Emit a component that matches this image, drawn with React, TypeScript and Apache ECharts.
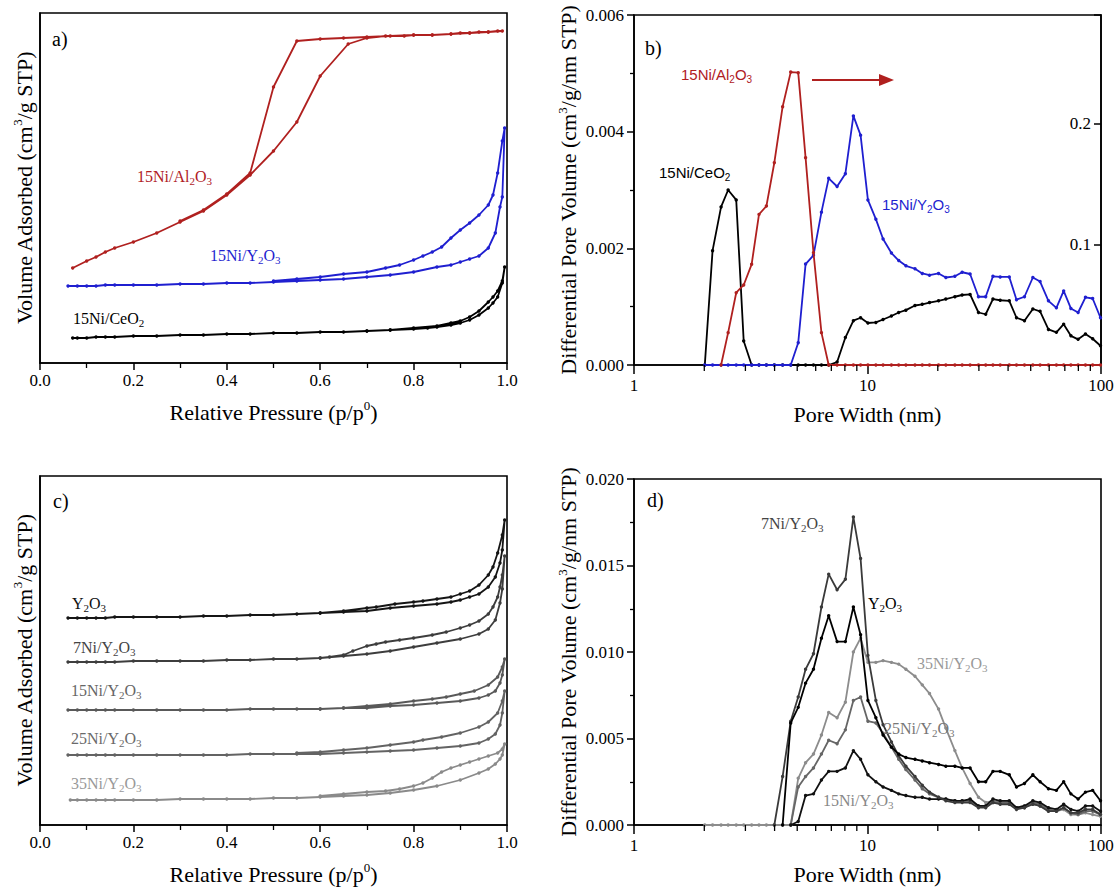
import React, { useEffect, useRef } from 'react';
import * as echarts from 'echarts';

const SERIF = 'Liberation Serif';
const SANS = 'Liberation Sans';
const RED = '#b0201f';
const BLUE = '#1f1fd0';

// ---------- Panel a: isotherms (p/p0, volume adsorbed, arbitrary offset units) ----------
const al2o3Ads = [[0.07,95],[0.1,102],[0.12,106],[0.14,111],[0.16,115],[0.2,121],[0.25,130],[0.3,141],[0.35,152],[0.4,168],[0.45,188],[0.5,212],[0.55,241],[0.6,287],[0.66,319],[0.7,325],[0.74,327],[0.78,327],[0.8,328],[0.84,328],[0.88,329],[0.9,330],[0.92,330],[0.94,331],[0.96,331],[0.98,332],[0.99,332]];
const al2o3Des = [[0.96,331],[0.92,330],[0.88,329],[0.84,328],[0.8,328],[0.75,327],[0.7,326],[0.65,325],[0.6,324],[0.55,322],[0.5,276],[0.45,190],[0.4,169],[0.35,153],[0.3,142]];
const y2o3Ads15 = [[0.06,77],[0.08,77],[0.1,77],[0.12,77],[0.14,78],[0.16,78],[0.2,78],[0.25,78],[0.3,79],[0.35,79],[0.4,80],[0.45,80],[0.5,81],[0.55,82],[0.6,83],[0.65,84],[0.7,86],[0.75,88],[0.8,91],[0.85,96],[0.88,98],[0.9,101],[0.92,104],[0.94,107],[0.96,115],[0.975,130],[0.985,156],[0.99,166],[0.995,235]];
const y2o3Des15 = [[0.99,222],[0.98,190],[0.97,168],[0.96,158],[0.94,148],[0.92,140],[0.9,133],[0.88,125],[0.86,116],[0.84,111],[0.82,107],[0.8,103],[0.77,98],[0.74,95],[0.7,91],[0.65,89],[0.6,86],[0.55,84],[0.5,82]];
const ceo2Ads = [[0.07,25],[0.08,25],[0.1,25],[0.12,26],[0.14,26],[0.16,26],[0.2,27],[0.25,27],[0.3,28],[0.35,28],[0.4,29],[0.45,29],[0.5,30],[0.55,30],[0.6,31],[0.65,31],[0.7,32],[0.75,33],[0.8,34],[0.83,35],[0.85,36],[0.88,38],[0.9,40],[0.92,43],[0.94,48],[0.96,55],[0.97,60],[0.98,66],[0.99,80],[0.995,96]];
const ceo2Des = [[0.99,82],[0.98,72],[0.97,66],[0.96,61],[0.94,52],[0.92,46],[0.9,42],[0.88,40],[0.85,37],[0.8,35],[0.75,33],[0.7,32]];

// ---------- Panel c: isotherms of Y2O3 series ----------
const y2o3Ads = [[0.06,207],[0.08,207],[0.1,207],[0.12,207],[0.14,207],[0.16,208],[0.2,208],[0.25,208],[0.3,208],[0.35,209],[0.4,209],[0.45,210],[0.5,210],[0.55,211],[0.6,212],[0.65,213],[0.7,214],[0.75,217],[0.8,219],[0.85,221],[0.88,223],[0.9,225],[0.92,228],[0.94,231],[0.96,238],[0.975,248],[0.985,262],[0.99,275],[0.995,305]];
const y2o3Des = [[0.99,290],[0.98,272],[0.97,258],[0.96,250],[0.94,240],[0.92,234],[0.9,231],[0.88,228],[0.85,226],[0.82,224],[0.8,223],[0.76,221],[0.72,218],[0.7,217],[0.65,214],[0.6,212]];
const ni7Ads = [[0.06,163],[0.08,163],[0.1,163],[0.12,163],[0.14,163],[0.16,163],[0.2,164],[0.25,164],[0.3,164],[0.35,164],[0.4,165],[0.45,165],[0.5,166],[0.55,166],[0.6,167],[0.65,169],[0.7,171],[0.75,174],[0.8,178],[0.85,182],[0.9,186],[0.94,191],[0.96,196],[0.975,205],[0.985,222],[0.99,236],[0.995,269]];
const ni7Des = [[0.99,250],[0.985,238],[0.98,228],[0.97,218],[0.96,211],[0.94,204],[0.92,200],[0.9,197],[0.87,193],[0.84,190],[0.8,187],[0.77,185],[0.74,183],[0.72,181],[0.7,179],[0.67,174],[0.65,170],[0.62,168],[0.6,167]];
const ni15Ads = [[0.06,115],[0.08,115],[0.1,115],[0.12,115],[0.14,115],[0.16,115],[0.2,115],[0.25,115],[0.3,115],[0.35,115],[0.4,115],[0.45,116],[0.5,116],[0.55,116],[0.6,116],[0.65,117],[0.7,117],[0.75,119],[0.8,120],[0.85,122],[0.9,124],[0.94,127],[0.96,130],[0.975,134],[0.985,142],[0.99,150],[0.995,166]];
const ni15Des = [[0.99,158],[0.98,148],[0.96,140],[0.93,134],[0.9,131],[0.87,128],[0.84,126],[0.8,124],[0.75,121],[0.7,119],[0.65,117],[0.6,116]];
const ni25Ads = [[0.06,70],[0.08,70],[0.1,70],[0.12,70],[0.14,70],[0.16,70],[0.2,70],[0.25,70],[0.3,70],[0.35,70],[0.4,70],[0.45,71],[0.5,71],[0.55,71],[0.6,71],[0.65,72],[0.7,73],[0.75,74],[0.8,75],[0.85,77],[0.9,79],[0.94,82],[0.96,86],[0.975,91],[0.985,100],[0.99,112],[0.995,134]];
const ni25Des = [[0.99,124],[0.98,112],[0.96,103],[0.94,98],[0.9,92],[0.86,88],[0.82,85],[0.8,83],[0.75,80],[0.7,77],[0.65,75],[0.6,73],[0.55,72]];
const ni35Ads = [[0.065,25],[0.08,25],[0.1,25],[0.12,25],[0.14,25],[0.16,25],[0.2,25],[0.25,25],[0.3,26],[0.35,26],[0.4,26],[0.45,26],[0.5,27],[0.55,27],[0.6,28],[0.65,29],[0.7,30],[0.75,32],[0.8,35],[0.85,39],[0.9,45],[0.94,52],[0.96,56],[0.975,61],[0.985,66],[0.99,70],[0.995,81]];
const ni35Des = [[0.99,76],[0.98,72],[0.96,69],[0.94,66],[0.92,63],[0.9,60],[0.88,57],[0.86,53],[0.84,47],[0.82,42],[0.8,39],[0.77,36],[0.74,34],[0.7,33],[0.65,31],[0.6,29]];

// ---------- Panels b, d: pore size distributions ----------
const N = null;
const poreWidth = [2.01,2.17,2.36,2.53,2.74,2.95,3.19,3.43,3.69,3.99,4.33,4.69,5.05,5.43,5.87,6.35,6.82,7.41,8.04,8.70,9.34,10.04,10.86,11.66,12.66,13.6,14.6,15.97,17.16,18.43,20.15,21.65,23.67,25.43,27.5,29.87,32.08,34.45,37.01,40.47,43.46,47.02,51.07,54.84,59.55,64.42,69.2,74.3,79.8,85.8,92.1,99.5];
const ceo2Pore = [0,0.00196,0.00271,0.0030,0.00283,0.00041,0,0,0,0, 0,0,0,0,0,0,0,0.00005,0.00047,0.00076, 0.00081,0.00072,0.00073,0.00078,0.00084,0.0009,0.00094,0.00102,0.00104,0.00107, 0.0011,0.00113,0.00117,0.0012,0.00121,0.0009,0.00087,0.00113,0.00111,0.0011, 0.00081,0.00076,0.00096,0.00092,0.00061,0.00056,0.0007,0.0005,0.00044,0.00053, 0.00045,0.00033];
const y2o3Pore15 = [0,0,0,0,0,0,0,0,0,0, 0,0,0.00038,0.00173,0.00188,0.00262,0.0032,0.00306,0.00328,0.00427, 0.00394,0.00283,0.0025,0.00216,0.00192,0.00179,0.0017,0.00165,0.00157,0.00154, 0.00157,0.0015,0.00152,0.00159,0.00156,0.00117,0.00117,0.00152,0.00151,0.00151, 0.00112,0.00117,0.0015,0.00143,0.0011,0.00098,0.00127,0.00097,0.0009,0.00116, 0.00114,0.00081];
const al2o3PoreRight = [N,N,0,0.0268,0.0599,0.0663,0.0834,0.1248,0.1317,0.1676, 0.214,0.2427,0.2422,0.1718,0.0931,0.0268,0,0,0,0, 0,0,0,0,0,0,0,0,0,0, 0,0,0,0,0,0,0,0,0,0, 0,0,0,0,0,0,0,0,0,0, 0,0];
const pore7Ni = [N,N,N,N,N,N,N,N,N,0, 0.0028,0.0060,0.0074,0.0090,0.0099,0.0126,0.0145,0.0136,0.0142,0.0178, 0.0154,0.0098,0.0072,0.0058,0.0048,0.0040,0.0034,0.0028,0.0023,0.0019, 0.0016,0.0014,0.0013,0.0013,0.0013,0.0010,0.0010,0.0013,0.0012,0.0012, 0.0009,0.0010,0.0012,0.0011,0.0008,0.0008,0.0010,0.0007,0.0007,0.0009, 0.0009,0.0006];
const poreY2O3 = [N,N,N,N,N,N,N,N,N,N, 0,0.0059,0.0068,0.0082,0.0090,0.0108,0.0121,0.0106,0.0106,0.0126, 0.0110,0.0072,0.0062,0.0052,0.0045,0.0041,0.0039,0.0038,0.0037,0.0036, 0.0035,0.0034,0.0034,0.0033,0.0033,0.0025,0.0025,0.0031,0.0031,0.0029, 0.0022,0.0024,0.0029,0.0025,0.0021,0.0020,0.0025,0.0018,0.0015,0.0019, 0.0020,0.0014];
const pore35Ni = [0,0,0,0,0,0,0,0,0,0, 0,0,0.0027,0.0036,0.0041,0.0052,0.0065,0.0062,0.0071,0.0100, 0.0108,0.0094,0.0094,0.0095,0.0094,0.0093,0.0090,0.0086,0.0081,0.0076, 0.0067,0.0056,0.0043,0.0033,0.0024,0.0016,0.0013,0.0014,0.0013,0.0013, 0.0010,0.0011,0.0012,0.0011,0.0008,0.0008,0.0009,0.0006,0.0006,0.0007, 0.0006,0.0005];
const pore25Ni = [N,N,N,N,N,N,N,N,N,N, N,0,0.0022,0.0028,0.0033,0.0041,0.0049,0.0047,0.0055,0.0072, 0.0074,0.0060,0.0059,0.0053,0.0045,0.0038,0.0032,0.0026,0.0021,0.0018, 0.0016,0.0015,0.0014,0.0014,0.0014,0.0011,0.0011,0.0013,0.0013,0.0013, 0.0010,0.0010,0.0013,0.0012,0.0009,0.0008,0.0010,0.0007,0.0006,0.0008, 0.0008,0.0006];
const pore15Ni = [N,N,N,N,N,N,N,N,N,N, N,0,0.0002,0.0017,0.0018,0.0026,0.0031,0.0031,0.0033,0.0043, 0.0038,0.0029,0.0025,0.0022,0.0020,0.0018,0.0017,0.0016,0.0016,0.0015, 0.0015,0.0015,0.0014,0.0014,0.0015,0.0011,0.0011,0.0015,0.0014,0.0014, 0.0010,0.0011,0.0014,0.0013,0.0010,0.0009,0.0012,0.0009,0.0008,0.0011, 0.0011,0.0008];
const logMinorTicks = [2,3,4,5,6,7,8,9,20,30,40,50,60,70,80,90];

const pairs = (xs: number[], ys: (number | null)[]) =>
  xs.map((x, i) => [x, ys[i]]).filter((p) => p[1] !== null);

const supRich = (size: number) => ({
  sup: { fontFamily: SERIF, fontSize: Math.round(size * 0.6), fontWeight: 'normal', lineHeight: 12, verticalAlign: 'top', color: '#000' },
});

const lineSeries = (data: any[], color: string, xi: number, yi: number, z = 2, w = 1.8) => ({
  type: 'line', data, xAxisIndex: xi, yAxisIndex: yi, symbol: 'circle', symbolSize: 3.4,
  showSymbol: true, lineStyle: { color, width: w }, itemStyle: { color }, z, silent: true,
});

const minorTickSeries = (xi: number, yi: number) => ({
  type: 'custom', xAxisIndex: xi, yAxisIndex: yi, silent: true, z: 10,
  data: logMinorTicks.map((v) => [v, 0]),
  renderItem: (_p: any, api: any) => {
    const pt = api.coord([api.value(0), 0]);
    return { type: 'line', shape: { x1: pt[0], y1: pt[1], x2: pt[0], y2: pt[1] + 6 }, style: { stroke: '#000', lineWidth: 1.3 } };
  },
});

const label = (x: number, y: number, text: string, color: string, family = SERIF, size = 16) => ({
  type: 'text', x, y, z: 100, silent: true,
  style: {
    text, fill: color, fontFamily: family, fontSize: size, lineHeight: 20, align: 'left', verticalAlign: 'middle',
    rich: { s: { fontFamily: family, fontSize: Math.round(size * 0.68), lineHeight: 12, verticalAlign: 'bottom', fill: color, color } },
  },
});

const axisLine = { show: true, lineStyle: { color: '#000', width: 1.6 } };
const tickLabel = { fontFamily: SERIF, fontSize: 17, color: '#000' };
const nameStyle = { fontFamily: SERIF, fontSize: 22, fontWeight: 'normal', color: '#000', lineHeight: 26, rich: supRich(22) };

const pressureAxis = (gridIndex: number) => ({
  type: 'value', gridIndex, min: 0, max: 1, interval: 0.2,
  name: 'Relative Pressure (p/p{sup|0})', nameLocation: 'middle', nameGap: 36, nameTextStyle: nameStyle,
  axisLine, axisTick: { show: true, length: 7, lineStyle: { color: '#000', width: 1.5 } },
  minorTick: { show: true, splitNumber: 2, length: 5, lineStyle: { color: '#000', width: 1.3 } },
  axisLabel: { ...tickLabel, margin: 9, formatter: (v: number) => v.toFixed(1) },
  splitLine: { show: false }, minorSplitLine: { show: false },
});

const poreAxis = (gridIndex: number) => ({
  type: 'log', logBase: 10, gridIndex, min: 1, max: 100,
  name: 'Pore Width (nm)', nameLocation: 'middle', nameGap: 36, nameTextStyle: nameStyle,
  axisLine, axisTick: { show: true, length: 9, lineStyle: { color: '#000', width: 1.5 } },
  axisLabel: { ...tickLabel, margin: 12 },
  splitLine: { show: false },
});

const volumeAxis = (gridIndex: number, max: number) => ({
  type: 'value', gridIndex, min: 0, max,
  name: 'Volume Adsorbed (cm{sup|3}/g STP)', nameLocation: 'middle', nameGap: 3, nameTextStyle: nameStyle,
  axisLine, axisTick: { show: false }, axisLabel: { show: false }, splitLine: { show: false },
});

const dpvAxis = (gridIndex: number, max: number, interval: number) => ({
  type: 'value', gridIndex, min: 0, max, interval,
  name: 'Differential Pore Volume (cm{sup|3}/g/nm STP)', nameLocation: 'middle', nameGap: 44, nameTextStyle: nameStyle,
  axisLine, axisTick: { show: true, length: 7, lineStyle: { color: '#000', width: 1.5 } },
  minorTick: { show: true, splitNumber: 2, length: 4, lineStyle: { color: '#000', width: 1.3 } },
  axisLabel: { ...tickLabel, margin: 10, formatter: (v: number) => v.toFixed(3) },
  splitLine: { show: false }, minorSplitLine: { show: false },
});

export default function App() {
  const ref = useRef<HTMLDivElement>(null);
  useEffect(() => {
    const chart = echarts.init(ref.current!, null, { renderer: 'svg' });
    const option: any = {
      animation: false,
      backgroundColor: '#fff',
      grid: [
        { left: 40, top: 13, width: 467, height: 350, show: true, borderColor: '#000', borderWidth: 1.6, backgroundColor: 'transparent' },
        { left: 634, top: 15, width: 467, height: 350, show: true, borderColor: '#000', borderWidth: 1.6, backgroundColor: 'transparent' },
        { left: 40, top: 476, width: 467, height: 349, show: true, borderColor: '#000', borderWidth: 1.6, backgroundColor: 'transparent' },
        { left: 634, top: 479, width: 467, height: 349, show: true, borderColor: '#000', borderWidth: 1.6, backgroundColor: 'transparent' },
      ],
      xAxis: [pressureAxis(0), poreAxis(1), pressureAxis(2), poreAxis(3)],
      yAxis: [
        volumeAxis(0, 350),
        dpvAxis(1, 0.006, 0.002),
        {
          type: 'value', gridIndex: 1, position: 'right', min: 0, max: 0.29, interval: 0.1,
          axisLine, axisTick: { show: true, inside: true, length: 7, lineStyle: { color: '#000', width: 1.5 } },
          axisLabel: {
            ...tickLabel, inside: true, margin: 10,
            formatter: (v: number) => (v > 0.05 && Math.abs(v * 10 - Math.round(v * 10)) < 1e-6 ? v.toFixed(1) : ''),
          },
          splitLine: { show: false },
        },
        volumeAxis(2, 349),
        dpvAxis(3, 0.02, 0.005),
      ],
      series: [
        lineSeries([...ceo2Ads, ...ceo2Des], '#000000', 0, 0),
        lineSeries([...y2o3Ads15, ...y2o3Des15], BLUE, 0, 0),
        lineSeries([...al2o3Ads, ...al2o3Des], RED, 0, 0),

        lineSeries(pairs(poreWidth, ceo2Pore), '#000000', 1, 1, 2),
        lineSeries(pairs(poreWidth, y2o3Pore15), BLUE, 1, 1, 3),
        lineSeries(pairs(poreWidth, al2o3PoreRight), RED, 1, 2, 4),
        minorTickSeries(1, 1),

        lineSeries([...ni35Ads, ...ni35Des], '#8a8a8a', 2, 3),
        lineSeries([...ni25Ads, ...ni25Des], '#636363', 2, 3),
        lineSeries([...ni15Ads, ...ni15Des], '#595959', 2, 3),
        lineSeries([...ni7Ads, ...ni7Des], '#3d3d3d', 2, 3),
        lineSeries([...y2o3Ads, ...y2o3Des], '#151515', 2, 3),

        lineSeries(pairs(poreWidth, pore35Ni), '#8c8c8c', 3, 4, 2),
        lineSeries(pairs(poreWidth, pore25Ni), '#666666', 3, 4, 3),
        lineSeries(pairs(poreWidth, pore15Ni), '#111111', 3, 4, 4),
        lineSeries(pairs(poreWidth, pore7Ni), '#3a3a3a', 3, 4, 5),
        lineSeries(pairs(poreWidth, poreY2O3), '#000000', 3, 4, 6),
        minorTickSeries(3, 4),
      ],
      graphic: {
        elements: [
          label(52, 39, 'a)', '#000', SERIF, 20),
          label(137, 176, '15Ni/Al{s|2}O{s|3}', RED),
          label(210, 255, '15Ni/Y{s|2}O{s|3}', BLUE),
          label(73, 318, '15Ni/CeO{s|2}', '#000'),

          label(645, 48, 'b)', '#000', SERIF, 20),
          label(681, 74, '15Ni/Al{s|2}O{s|3}', RED, SANS, 15),
          label(659, 172, '15Ni/CeO{s|2}', '#000', SANS, 15),
          label(882, 204, '15Ni/Y{s|2}O{s|3}', BLUE, SANS, 15),
          { type: 'line', silent: true, z: 100, shape: { x1: 812, y1: 80, x2: 881, y2: 80 }, style: { stroke: RED, lineWidth: 2 } },
          { type: 'polygon', silent: true, z: 100, shape: { points: [[879, 74], [894, 80], [879, 86]] }, style: { fill: RED } },

          label(53, 501, 'c)', '#000', SERIF, 20),
          label(72, 603, 'Y{s|2}O{s|3}', '#111'),
          label(73, 647, '7Ni/Y{s|2}O{s|3}', '#444'),
          label(71, 690, '15Ni/Y{s|2}O{s|3}', '#666'),
          label(71, 738, '25Ni/Y{s|2}O{s|3}', '#6a6a6a'),
          label(71, 783, '35Ni/Y{s|2}O{s|3}', '#999'),

          label(647, 500, 'd)', '#000', SERIF, 20),
          label(761, 523, '7Ni/Y{s|2}O{s|3}', '#444'),
          label(868, 603, 'Y{s|2}O{s|3}', '#000'),
          label(917, 663, '35Ni/Y{s|2}O{s|3}', '#999'),
          label(884, 728, '25Ni/Y{s|2}O{s|3}', '#777'),
          label(823, 800, '15Ni/Y{s|2}O{s|3}', '#888'),
        ],
      },
    };
    chart.setOption(option);
    return () => chart.dispose();
  }, []);
  return (
    <div
      ref={ref}
      style={{ position: 'absolute', left: 0, top: 0, width: 1118, height: 888, background: '#fff' }}
    />
  );
}
